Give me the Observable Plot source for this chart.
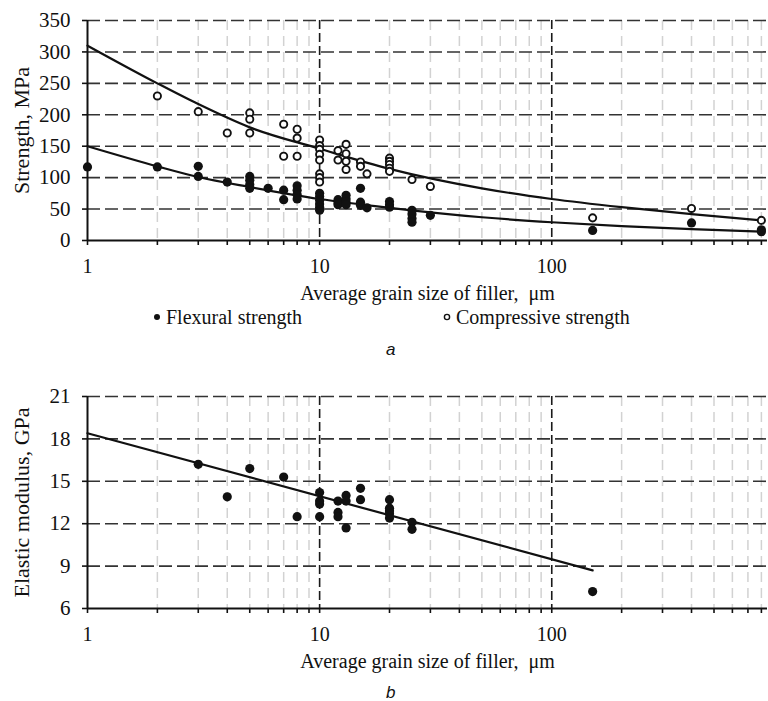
<!DOCTYPE html>
<html>
<head>
<meta charset="utf-8">
<script src="https://cdn.jsdelivr.net/npm/d3@7"></script>
<script src="https://cdn.jsdelivr.net/npm/@observablehq/plot@0.6"></script>
<style>
  html, body { margin: 0; padding: 0; background: #fff; }
  #root { position: relative; width: 768px; height: 701px; overflow: hidden; font-family: "Liberation Serif", "Times New Roman", serif; color: #111; }
  .abs { position: absolute; white-space: pre; line-height: 1; }
  .cap { font-family: "Liberation Sans", Arial, sans-serif; font-style: italic; font-size: 17px; }
  .leg { font-size: 20px; font-family: "Liberation Serif", "Times New Roman", serif; }
</style>
</head>
<body>
<div id="root"></div>
<script>
// ---------- Data ----------
// Panel a: compressive strength (open circles)
const compX = [2, 3, 4, 5, 5, 5, 7, 7, 8, 8, 8, 10, 10, 10, 10, 10, 10, 10, 10, 12, 12, 13, 13, 13, 13, 15, 15, 16, 20, 20, 20, 20, 20, 25, 30, 150, 400, 800];
const compY = [230, 205, 171, 203, 193, 171, 185, 134, 177, 163, 134, 160, 151, 145, 137, 128, 106, 100, 93, 143, 128, 153, 138, 126, 113, 125, 118, 106, 131, 126, 121, 115, 110, 97, 86, 36, 51, 32];
// Panel a: flexural strength (filled circles)
const flexX = [1, 2, 3, 3, 4, 5, 5, 5, 5, 6, 7, 7, 8, 8, 8, 8, 10, 10, 10, 10, 10, 10, 12, 12, 12, 13, 13, 13, 13, 15, 15, 15, 16, 20, 20, 20, 25, 25, 25, 25, 30, 150, 400, 800, 800];
const flexY = [117, 117, 118, 102, 93, 102, 96, 89, 83, 83, 80, 65, 87, 80, 73, 66, 75, 70, 64, 58, 53, 48, 65, 60, 57, 72, 66, 61, 57, 83, 61, 56, 52, 62, 57, 53, 48, 42, 35, 29, 40, 16, 28, 17, 14];
// Panel a: trend curves
const fitX = [1, 2, 3, 5, 10, 20, 50, 100, 200, 400, 800];
const compFitY = [310, 250, 217, 180, 146, 114, 83, 66, 53, 42, 32];
const flexFitY = [150, 118, 101, 85, 66, 52, 37, 29, 23, 18, 14];
// Panel b: elastic modulus
const modX = [3, 4, 5, 7, 8, 10, 10, 10, 10, 12, 12, 12, 13, 13, 13, 15, 15, 20, 20, 20, 20, 20, 25, 25, 150];
const modY = [16.2, 13.9, 15.9, 15.3, 12.5, 14.2, 13.6, 13.4, 12.5, 13.6, 12.8, 12.5, 14.0, 13.6, 11.7, 14.5, 13.7, 13.7, 13.1, 12.9, 12.7, 12.4, 12.1, 11.6, 7.2];
const modFitX = [1, 150];
const modFitY = [18.4, 8.7];

// Ticks
const xTicks = [1, 2, 3, 4, 5, 6, 7, 8, 9, 10, 20, 30, 40, 50, 60, 70, 80, 90, 100, 200, 300, 400, 500, 600, 700, 800];
const xMajor = [10, 100];
const xLabeled = [1, 10, 100];
const yTicksA = [0, 50, 100, 150, 200, 250, 300, 350];
const yTicksB = [6, 9, 12, 15, 18, 21];

const xLabel = "Average grain size of filler, \u00a0\u03bcm";
const yLabelA = "Strength, MPa";
const yLabelB = "Elastic modulus, GPa";
const legendLabels = ["Flexural strength", "Compressive strength"];
const captions = ["a", "b"];

// ---------- Drawing ----------
const FONT = '"Liberation Serif", "Times New Roman", serif';
const minorX = xTicks.filter(d => !xLabeled.includes(d));

function panel(opts) {
  const {yDomain, yTicks, yLabel, marks, height} = opts;
  return Plot.plot({
    width: 768,
    height,
    marginLeft: 87,
    marginRight: 1,
    marginTop: 20,
    marginBottom: height - 20 - opts.plotH,
    style: {fontFamily: FONT, fontSize: "20px", color: "#111", background: "#fff", overflow: "visible"},
    x: {type: "log", domain: [1, 850], axis: null},
    y: {domain: yDomain, axis: null},
    marks: [
      Plot.ruleX(minorX, {stroke: "#d2d2d2", strokeWidth: 1.5, strokeDasharray: "10,6"}),
      Plot.ruleX(xMajor, {stroke: "#1a1a1a", strokeWidth: 1.6, strokeDasharray: "9,4"}),
      Plot.ruleY(yTicks.slice(1), {stroke: "#333", strokeWidth: 1.6, strokeDasharray: "13,5"}),
      Plot.axisX({ticks: xTicks, tickSize: 5, tickPadding: 13, strokeWidth: 1.6, stroke: "#111",
        tickFormat: d => xLabeled.includes(d) ? String(d) : "", fontSize: 20, fontFamily: FONT, fill: "#111", label: null}),
      Plot.axisY({ticks: yTicks, tickSize: 5, tickPadding: 12, strokeWidth: 1.6, stroke: "#111",
        tickFormat: d => String(d), fontSize: 21, fontFamily: FONT, fill: "#111", label: null}),
      Plot.ruleX([1], {stroke: "#111", strokeWidth: 2}),
      Plot.ruleY([yDomain[0]], {stroke: "#111", strokeWidth: 2}),
      Plot.text([xLabel], {text: d => d, frameAnchor: "bottom", lineAnchor: "middle", textAnchor: "middle", dy: 53, fontSize: 20, fontFamily: FONT, fill: "#111"}),
      Plot.text([yLabel], {text: d => d, frameAnchor: "left", lineAnchor: "middle", textAnchor: "middle", dx: -66, rotate: -90, fontSize: 22, fontFamily: FONT, fill: "#111"}),
      ...marks
    ]
  });
}

const root = document.getElementById("root");

const chartA = panel({
  height: 300, plotH: 220, yDomain: [0, 350], yTicks: yTicksA, yLabel: yLabelA,
  marks: [
    Plot.line(fitX.map((x, i) => ({x, y: compFitY[i]})), {x: "x", y: "y", curve: "monotone-x", stroke: "#111", strokeWidth: 2.2}),
    Plot.line(fitX.map((x, i) => ({x, y: flexFitY[i]})), {x: "x", y: "y", curve: "monotone-x", stroke: "#111", strokeWidth: 2.2}),
    Plot.dot(compX.map((x, i) => ({x, y: compY[i]})), {x: "x", y: "y", r: 3.6, fill: "#fff", stroke: "#111", strokeWidth: 1.9}),
    Plot.dot(flexX.map((x, i) => ({x, y: flexY[i]})), {x: "x", y: "y", r: 4.6, fill: "#111", stroke: "none"})
  ]
});
chartA.style.position = "absolute";
chartA.style.left = "0px";
chartA.style.top = "0px";
root.appendChild(chartA);

const chartB = panel({
  height: 292, plotH: 212, yDomain: [6, 21], yTicks: yTicksB, yLabel: yLabelB,
  marks: [
    Plot.line(modFitX.map((x, i) => ({x, y: modFitY[i]})), {x: "x", y: "y", stroke: "#111", strokeWidth: 2.2}),
    Plot.dot(modX.map((x, i) => ({x, y: modY[i]})), {x: "x", y: "y", r: 4.6, fill: "#111", stroke: "none"})
  ]
});
chartB.style.position = "absolute";
chartB.style.left = "0px";
chartB.style.top = "376px";
root.appendChild(chartB);

// Legend (below panel a)
function legendItem(left, label, filled) {
  const d = document.createElement("div");
  d.className = "abs leg";
  d.style.left = left + "px";
  d.style.top = "307px";
  d.style.display = "flex";
  d.style.alignItems = "center";
  const sw = filled
    ? `<svg width="10" height="10" style="margin-right:4px"><circle cx="5" cy="5" r="3" fill="#111"/></svg>`
    : `<svg width="10" height="10" style="margin-right:4px"><circle cx="5" cy="5" r="2.6" fill="#fff" stroke="#111" stroke-width="1.4"/></svg>`;
  d.innerHTML = sw + `<span>${label}</span>`;
  root.appendChild(d);
}
legendItem(152, legendLabels[0], true);
legendItem(442, legendLabels[1], false);

// Captions
function caption(text, top) {
  const d = document.createElement("div");
  d.className = "abs cap";
  d.style.left = "386px";
  d.style.top = top + "px";
  d.textContent = text;
  root.appendChild(d);
}
caption(captions[0], 341);
caption(captions[1], 684);
</script>
</body>
</html>
